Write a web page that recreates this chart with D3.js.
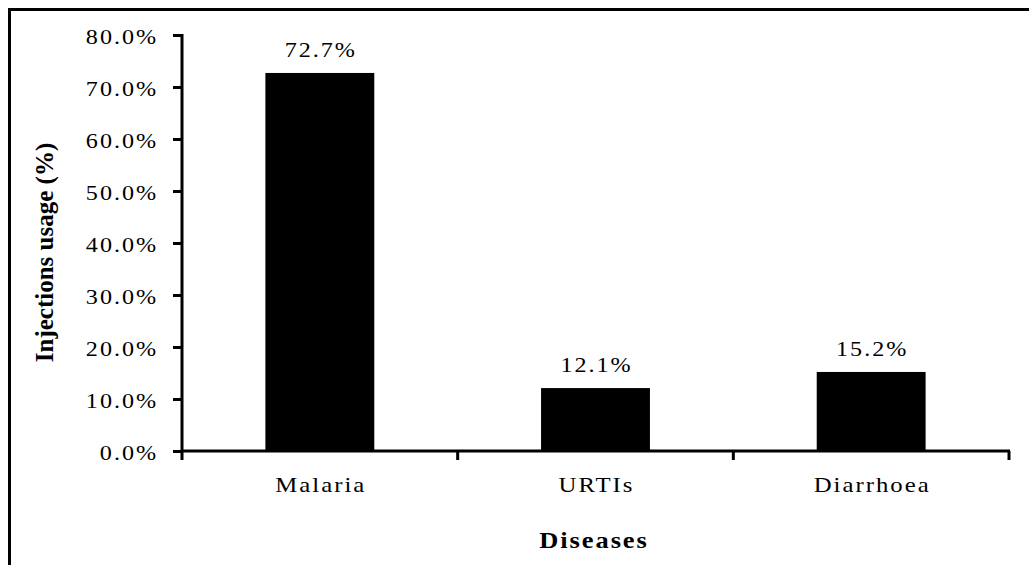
<!DOCTYPE html>
<html>
<head>
<meta charset="utf-8">
<script src="https://cdn.jsdelivr.net/npm/d3@7"></script>
<style>
  html, body { margin: 0; padding: 0; background: #fff; }
  svg { display: block; }
  text { font-family: "Liberation Serif", "Times New Roman", serif; fill: #000; }
</style>
</head>
<body>
<svg id="chart" width="1029" height="565"></svg>
<script>
const categories = ["Malaria", "URTIs", "Diarrhoea"];
const values = [72.7, 12.1, 15.2];
const valueLabels = ["72.7%", "12.1%", "15.2%"];
const yTicks = [0, 10, 20, 30, 40, 50, 60, 70, 80];
const yTitle = "Injections usage (%)";
const xTitle = "Diseases";

(function () {
const svg = d3.select("#chart");
const pLeft = 182, pRight = 1009, pTop = 35, pBottom = 451;
const LS = 1.7, SX = 1.15;

// frame (top and left edges visible)
svg.append("path")
  .attr("d", `M9.5,565 L9.5,9.5 L1029,9.5`)
  .attr("fill", "none").attr("stroke", "#000").attr("stroke-width", 3);

const x = d3.scaleBand().domain(categories).range([pLeft, pRight])
  .paddingInner(0.605).paddingOuter(0.3025);
const y = d3.scaleLinear().domain([0, 80]).range([pBottom, pTop]);

// bars
svg.selectAll("rect.bar").data(values).enter().append("rect")
  .attr("class", "bar")
  .attr("x", (d, i) => x(categories[i]))
  .attr("width", x.bandwidth())
  .attr("y", d => y(d))
  .attr("height", d => y(0) - y(d))
  .attr("fill", "#000");

// value labels
svg.selectAll("text.val").data(values).enter().append("text")
  .attr("class", "val")
  .attr("transform", (d, i) => `translate(${x(categories[i]) + x.bandwidth() / 2},${y(d) - 16}) scale(${SX},1)`)
  .attr("x", LS / 2)
  .attr("text-anchor", "middle")
  .style("font-size", "21px").style("letter-spacing", LS + "px")
  .text((d, i) => valueLabels[i]);

// y axis
const yAxis = svg.append("g").attr("transform", `translate(${pLeft},0)`)
  .call(d3.axisLeft(y).tickValues(yTicks).tickSize(9).tickFormat(d => d3.format(".1f")(d) + "%"));
yAxis.select(".domain").attr("stroke-width", 3).attr("d", `M0,${pTop - 1}V${pBottom}`);
yAxis.selectAll(".tick line").attr("stroke-width", 3);
yAxis.selectAll(".tick text")
  .attr("x", LS).attr("dy", null)
  .attr("transform", `translate(-26,8) scale(${SX},1)`)
  .attr("text-anchor", "end")
  .style("font-size", "21px").style("letter-spacing", LS + "px")
  .style("font-family", "Liberation Serif, serif");

// x axis line and boundary ticks
const boundaries = d3.range(categories.length + 1).map(i => pLeft + i * x.step());
const xAxisG = svg.append("g");
xAxisG.append("line")
  .attr("x1", pLeft - 1).attr("x2", pRight + 1)
  .attr("y1", pBottom).attr("y2", pBottom)
  .attr("stroke", "#000").attr("stroke-width", 3);
xAxisG.selectAll("line.tk").data(boundaries).enter().append("line")
  .attr("class", "tk")
  .attr("x1", d => d).attr("x2", d => d)
  .attr("y1", pBottom).attr("y2", pBottom + 9)
  .attr("stroke", "#000").attr("stroke-width", 3);

// category labels
svg.selectAll("text.cat").data(categories).enter().append("text")
  .attr("class", "cat")
  .attr("transform", d => `translate(${x(d) + x.bandwidth() / 2},492) scale(${SX + 0.03},1)`)
  .attr("x", LS / 2)
  .attr("text-anchor", "middle")
  .style("font-size", "21px").style("letter-spacing", LS + "px")
  .text(d => d);

// axis titles
svg.append("text")
  .attr("transform", `translate(593,548) scale(${SX},1)`)
  .attr("x", LS / 2)
  .attr("text-anchor", "middle")
  .style("font-size", "23px").style("font-weight", "bold").style("letter-spacing", LS + "px")
  .text(xTitle);

svg.append("text")
  .attr("transform", `translate(53,252.5) rotate(-90)`)
  .attr("text-anchor", "middle")
  .style("font-size", "25px").style("font-weight", "bold")
  .text(yTitle);
})();
</script>
</body>
</html>
